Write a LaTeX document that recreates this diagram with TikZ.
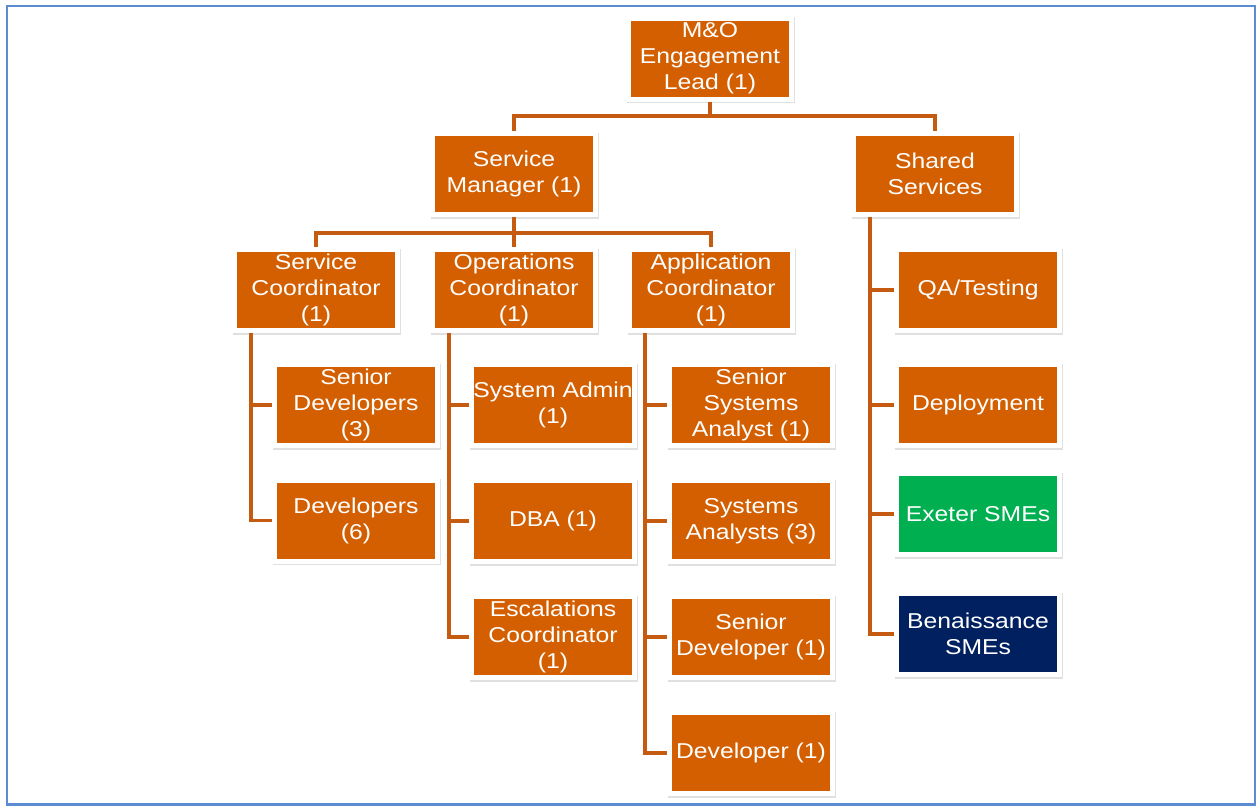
\documentclass[tikz,border=0pt]{standalone}
\usepackage{fontspec}
\setmainfont{Liberation Sans}[FakeStretch=1.15]
\usetikzlibrary{shadows}
\definecolor{boxorange}{RGB}{211,95,0}
\definecolor{linkorange}{RGB}{197,90,17}
\definecolor{smegreen}{RGB}{0,176,80}
\definecolor{smenavy}{RGB}{0,32,96}
\definecolor{frameblue}{RGB}{91,139,208}

\tikzset{
  role/.style={minimum width=168pt, minimum height=86pt, inner sep=0pt,
    fill=white, text=white, align=center,
    font=\fontsize{21.5}{26}\selectfont,
    drop shadow={shadow xshift=1pt, shadow yshift=-1.5pt, opacity=0.35, fill=black!35},
    path picture={\fill[#1]
      ([shift={(5pt,-5pt)}]path picture bounding box.north west) rectangle
      ([shift={(-5pt,5pt)}]path picture bounding box.south east);}},
  role/.default=boxorange,
  link/.style={draw=linkorange, line width=3.5pt}
}

\begin{document}
\begin{tikzpicture}[x=1pt, y=-1pt]
\useasboundingbox (0,0) rectangle (1257,806);
\draw[frameblue, line width=2.5pt] (7,6) rectangle (1255,804.5);

% top of the organisation
\node[role] (mo) at (710,58.5) {M\&O\\Engagement\\Lead (1)};
\node[role] (sm) at (514,174) {Service\\Manager (1)};
\node[role] (ss) at (935,174) {Shared\\Services};

% coordinators
\node[role] (sc) at (316,290) {Service\\Coordinator\\(1)};
\node[role] (oc) at (514,290) {Operations\\Coordinator\\(1)};
\node[role] (ac) at (711,290) {Application\\Coordinator\\(1)};

% service coordinator team
\node[role] (sd) at (356,405) {Senior\\Developers\\(3)};
\node[role] (dv) at (356,520.5) {Developers\\(6)};

% operations team
\node[role] (sa) at (553,405) {System Admin\\(1)};
\node[role] (dba) at (553,521) {DBA (1)};
\node[role] (esc) at (553,637) {Escalations\\Coordinator\\(1)};

% application team
\node[role] (ssa) at (751,405) {Senior\\Systems\\Analyst (1)};
\node[role] (sysa) at (751,521) {Systems\\Analysts (3)};
\node[role] (sdev) at (751,637) {Senior\\Developer (1)};
\node[role] (dev) at (751,753) {Developer (1)};

% shared services
\node[role] (qa) at (978,290) {QA/Testing};
\node[role] (dep) at (978,405) {Deployment};
\node[role=smegreen] (ex) at (978,514) {Exeter SMEs};
\node[role=smenavy] (ben) at (978,634) {Benaissance\\SMEs};

% buses between levels
\coordinate (bus1) at (710,116);
\coordinate (bus2) at (514,233);
\draw[link] (mo.south) -- (bus1);
\draw[link] (sm.north) |- (bus1) -| (ss.north);
\draw[link] (sm.south) -- (bus2);
\draw[link] (sc.north) |- (bus2) -| (ac.north);
\draw[link] (oc.north) -- (bus2);

% side trunks to team members
\draw[link] ([xshift=19pt]sc.south west) |- (sd.west);
\draw[link] ([xshift=19pt]sc.south west) |- (dv.west);
\draw[link] ([xshift=19pt]oc.south west) |- (sa.west);
\draw[link] ([xshift=19pt]oc.south west) |- (dba.west);
\draw[link] ([xshift=19pt]oc.south west) |- (esc.west);
\draw[link] ([xshift=18pt]ac.south west) |- (ssa.west);
\draw[link] ([xshift=18pt]ac.south west) |- (sysa.west);
\draw[link] ([xshift=18pt]ac.south west) |- (sdev.west);
\draw[link] ([xshift=18pt]ac.south west) |- (dev.west);
\draw[link] ([xshift=19pt]ss.south west) |- (qa.west);
\draw[link] ([xshift=19pt]ss.south west) |- (dep.west);
\draw[link] ([xshift=19pt]ss.south west) |- (ex.west);
\draw[link] ([xshift=19pt]ss.south west) |- (ben.west);
\end{tikzpicture}
\end{document}
